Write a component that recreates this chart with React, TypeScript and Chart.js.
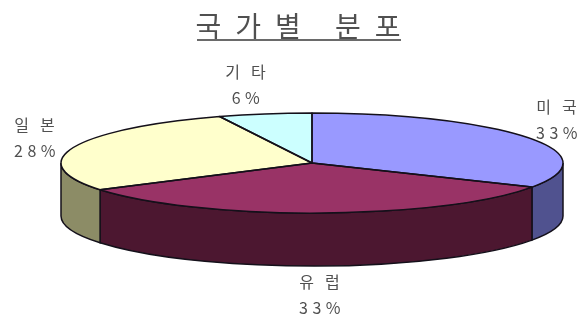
import React, { useEffect, useRef } from "react";
import { Chart, registerables } from "chart.js";

Chart.register(...registerables);

const chartTitle = "국가별 분포";
const categories = ["미국", "유럽", "일본", "기타"];
const shares = [33, 33, 28, 6];
const topColors = ["#9999FF", "#993366", "#FFFFCC", "#CCFFFF"];
const sideColors = ["#50528F", "#4C1730", "#8C8C66", "#668080"];

// Placement of each slice's two-line caption, in the order of the categories.
const captionCenters = [
  [557, 107],
  [320, 282],
  [35, 125],
  [246, 72],
];

const CENTER_X = 312;
const CENTER_Y = 163;
const RADIUS_X = 251;
const RADIUS_Y = 50;
const DEPTH = 53;
const FONT = '"Noto Sans CJK KR", "Noto Sans", sans-serif';
const OUTLINE = "#14101a";
const TEXT = "#505050";

// Draws the pie as a tilted disc: side walls first, then the library's arcs
// squashed into an ellipse, then outlines and captions.
const tiltedPie = {
  id: "tiltedPie",
  beforeDatasetDraw(chart: any) {
    const ctx = chart.ctx;
    const arcs = chart.getDatasetMeta(0).data;
    ctx.save();
    arcs.forEach((arc: any, i: number) => {
      const { startAngle, endAngle } = arc.getProps(["startAngle", "endAngle"], true);
      const from = Math.max(startAngle, 0);
      const to = Math.min(endAngle, Math.PI);
      if (to <= from) return;
      ctx.beginPath();
      ctx.ellipse(CENTER_X, CENTER_Y, RADIUS_X, RADIUS_Y, 0, from, to);
      ctx.ellipse(CENTER_X, CENTER_Y + DEPTH, RADIUS_X, RADIUS_Y, 0, to, from, true);
      ctx.closePath();
      ctx.fillStyle = sideColors[i];
      ctx.fill();
      ctx.lineWidth = 1.5;
      ctx.strokeStyle = OUTLINE;
      ctx.stroke();
    });
    const first = arcs[0];
    const { x, y, outerRadius } = first.getProps(["x", "y", "outerRadius"], true);
    ctx.translate(CENTER_X, CENTER_Y);
    ctx.scale(RADIUS_X / outerRadius, RADIUS_Y / outerRadius);
    ctx.translate(-x, -y);
  },
  afterDatasetDraw(chart: any) {
    const ctx = chart.ctx;
    ctx.restore();
    const arcs = chart.getDatasetMeta(0).data;

    ctx.save();
    ctx.lineWidth = 1.5;
    ctx.strokeStyle = OUTLINE;
    ctx.lineJoin = "round";
    arcs.forEach((arc: any) => {
      const { startAngle, endAngle } = arc.getProps(["startAngle", "endAngle"], true);
      ctx.beginPath();
      ctx.moveTo(CENTER_X, CENTER_Y);
      ctx.ellipse(CENTER_X, CENTER_Y, RADIUS_X, RADIUS_Y, 0, startAngle, endAngle);
      ctx.closePath();
      ctx.stroke();
    });
    ctx.restore();

    ctx.save();
    ctx.fillStyle = TEXT;
    ctx.textAlign = "center";
    ctx.textBaseline = "middle";

    ctx.font = `28px ${FONT}`;
    ctx.letterSpacing = "14px";
    ctx.fillText(chartTitle, 305, 26);
    ctx.fillStyle = "#6a6a6a";
    ctx.fillRect(197, 39, 204, 2);

    ctx.fillStyle = TEXT;
    ctx.font = `16px ${FONT}`;
    categories.forEach((name, i) => {
      const [cx, cy] = captionCenters[i];
      ctx.letterSpacing = "11px";
      ctx.fillText(name, cx + 5, cy);
      ctx.letterSpacing = "4.5px";
      ctx.fillText(`${shares[i]}%`, cx + 2, cy + 26);
    });
    ctx.restore();
  },
};

export default function App() {
  const canvasRef = useRef<HTMLCanvasElement>(null);

  useEffect(() => {
    const chart = new Chart(canvasRef.current!, {
      type: "pie",
      data: {
        labels: categories,
        datasets: [
          {
            data: shares,
            backgroundColor: topColors,
            borderWidth: 0,
            clip: false,
          } as any,
        ],
      },
      options: {
        responsive: false,
        animation: false,
        events: [],
        plugins: {
          legend: { display: false },
          title: { display: false },
          tooltip: { enabled: false },
        },
      },
      plugins: [tiltedPie],
    });
    return () => chart.destroy();
  }, []);

  return (
    <div style={{ position: "absolute", left: 0, top: 0, width: 582, height: 320, background: "#fff" }}>
      <canvas ref={canvasRef} width={582} height={320} style={{ display: "block" }} />
    </div>
  );
}
